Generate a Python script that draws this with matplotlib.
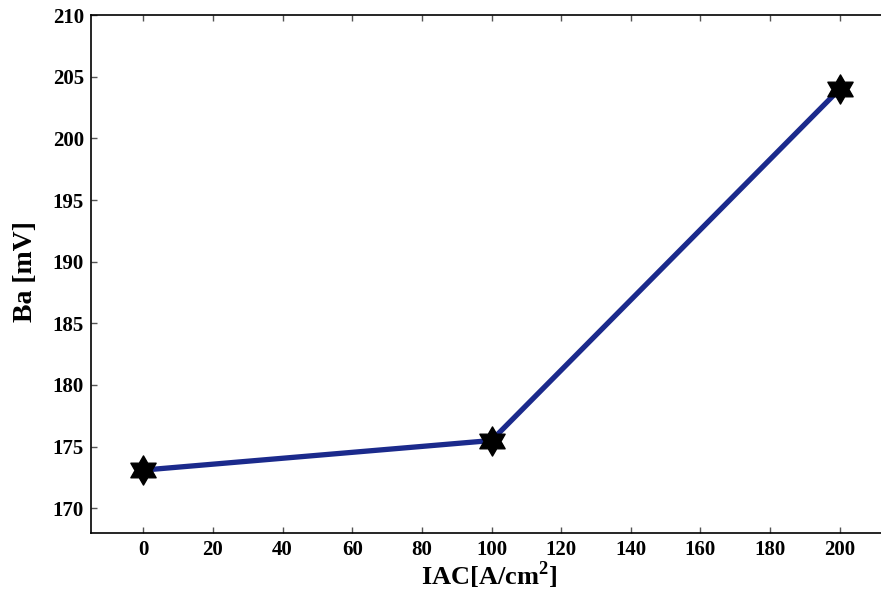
import matplotlib
matplotlib.use("Agg")
import numpy as np
import matplotlib.pyplot as plt
from matplotlib.path import Path

# Anodic Tafel slope versus AC current density
iac = [0, 100, 200]
ba_mv = [173.1, 175.5, 204.0]
xticks = [0, 20, 40, 60, 80, 100, 120, 140, 160, 180, 200]
yticks = [170, 175, 180, 185, 190, 195, 200, 205, 210]

plt.rcParams["font.family"] = "Liberation Serif"
plt.rcParams["font.weight"] = "bold"
plt.rcParams["mathtext.fontset"] = "custom"
plt.rcParams["mathtext.rm"] = "Liberation Serif:bold"
plt.rcParams["mathtext.bf"] = "Liberation Serif:bold"

# six-pointed star (hexagram) marker
ang = np.pi / 2 + np.arange(12) * np.pi / 6
rad = np.where(np.arange(12) % 2 == 0, 1.0, 1 / np.sqrt(3))
verts = np.column_stack([rad * np.cos(ang), rad * np.sin(ang)])
verts = np.vstack([verts, verts[:1]])
hexagram = Path(verts, [Path.MOVETO] + [Path.LINETO] * 11 + [Path.CLOSEPOLY])

fig = plt.figure(figsize=(8.81, 5.91), dpi=100)
ax = fig.add_axes([91 / 881, 58 / 591, 801 / 881, 518 / 591])

ax.plot(iac, ba_mv, color="#1b2a8c", linewidth=3.8, zorder=2)
ax.plot(iac, ba_mv, linestyle="none", marker=hexagram, markersize=21,
        color="black", zorder=3)

ax.set_xlim(-15, 215)
ax.set_ylim(168, 210)
ax.set_xticks(xticks)
ax.set_yticks(yticks)
ax.tick_params(direction="in", length=4, width=1, top=True, right=False,
               labelsize=15, pad=5, color="#555555")
for lab in ax.get_xticklabels() + ax.get_yticklabels():
    lab.set_fontweight("bold")

for side in ["left", "top", "bottom"]:
    ax.spines[side].set_linewidth(1.2)
ax.spines["right"].set_visible(False)

ax.set_xlabel(r"IAC[A/cm$^{\mathbf{2}}$]", fontsize=19, fontweight="bold")
ax.xaxis.set_label_coords((489 - 91) / 801, -(575 - 533) / 518)
ax.xaxis.label.set_va("center")
ax.set_ylabel("Ba [mV]", fontsize=20, fontweight="bold")
ax.yaxis.set_label_coords(-(91 - 25) / 801, (533 - 272) / 518)
ax.yaxis.label.set_va("center")

fig.savefig("out.png", dpi=100)
